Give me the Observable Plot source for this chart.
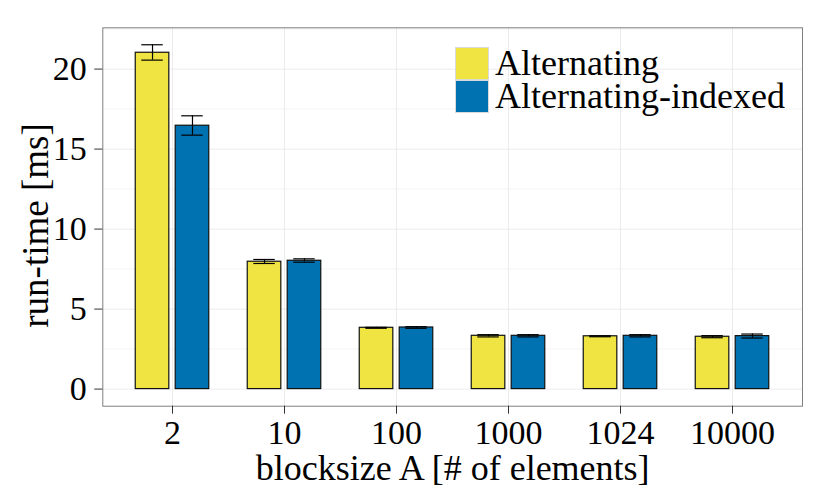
<!DOCTYPE html>
<html><head><meta charset="utf-8">
<script src="https://cdn.jsdelivr.net/npm/d3@7"></script>
<script src="https://cdn.jsdelivr.net/npm/@observablehq/plot@0.6"></script>
<style>
body{margin:0;background:#fff;}
#wrap{position:relative;width:830px;height:498px;font-family:"Liberation Serif",serif;}
#legend{position:absolute;left:455px;top:47px;}
.row{display:flex;align-items:center;height:33px;}
.key{width:34px;height:33px;box-sizing:border-box;border:1px solid #d9d9d9;}
.lab{margin-left:6px;font-size:36px;line-height:33px;color:#000;white-space:nowrap;}
</style></head><body><div id="wrap"></div>
<script>
// ---- data ----
const blocksizes = ["2", "10", "100", "1000", "1024", "10000"];
const series = ["Alternating", "Alternating-indexed"];
const colors = ["#F0E442", "#0072B2"];
const altMean = [21.02, 7.96, 3.83, 3.33, 3.30, 3.27];
const altLo   = [20.56, 7.85, 3.80, 3.26, 3.27, 3.21];
const altHi   = [21.52, 8.10, 3.86, 3.40, 3.33, 3.34];
const idxMean = [16.46, 8.02, 3.85, 3.33, 3.33, 3.31];
const idxLo   = [15.87, 7.93, 3.80, 3.26, 3.26, 3.19];
const idxHi   = [17.08, 8.14, 3.90, 3.40, 3.40, 3.44];
const yTicks = [0, 5, 10, 15, 20];
const yMinor = [2.5, 7.5, 12.5, 17.5, 22.5];
const xTitle = "blocksize A [# of elements]";
const yTitle = "run-time [ms]";

const rows = (means, los, his, s) => blocksizes.map((b, i) => ({blocksize: b, series: s, mean: means[i], lo: los[i], hi: his[i]}));
const alt = rows(altMean, altLo, altHi, series[0]);
const idx = rows(idxMean, idxLo, idxHi, series[1]);

// ---- layout ----
const W = 830, H = 498, mL = 102.3, mR = 28, mT = 27.3, mB = 92.3;
const step = (W - mL - mR) / 6.2;
const half = step / 2;
const off = 0.177 * step;   // dodge offset
const bw = 0.305 * step;    // bar width
const cw = 0.198 * step;    // error bar cap width
const ins = (sign, w) => { const c = half + sign * off; return {insetLeft: c - w / 2, insetRight: step - (c + w / 2)}; };

function seriesMarks(d, sign) {
  return [
    Plot.barY(d, {x: "blocksize", y: "mean", fill: "series", stroke: "#111", strokeWidth: 1.2, ...ins(sign, bw)}),
    Plot.ruleX(d, {x: "blocksize", y1: "lo", y2: "hi", dx: sign * off, stroke: "#000", strokeWidth: 1.2}),
    Plot.tickY(d, {x: "blocksize", y: "hi", stroke: "#000", strokeWidth: 1.2, ...ins(sign, cw)}),
    Plot.tickY(d, {x: "blocksize", y: "lo", stroke: "#000", strokeWidth: 1.2, ...ins(sign, cw)})
  ];
}

const chart = Plot.plot({
  width: W, height: H,
  marginLeft: mL, marginRight: mR, marginTop: mT, marginBottom: mB,
  style: {fontFamily: "Liberation Serif", fontSize: "34px", background: "white", color: "black", overflow: "visible"},
  x: {type: "band", domain: blocksizes, paddingInner: 0, paddingOuter: 0.1, label: null},
  y: {domain: [-1.07, 22.58], label: null},
  color: {domain: series, range: colors},
  marks: [
    Plot.gridY(yMinor, {stroke: "#f4f4f4", strokeOpacity: 1, strokeWidth: 1}),
    Plot.gridY(yTicks, {stroke: "#ebebeb", strokeOpacity: 1, strokeWidth: 1}),
    Plot.gridX(blocksizes, {stroke: "#ebebeb", strokeOpacity: 1, strokeWidth: 1}),
    ...seriesMarks(alt, -1),
    ...seriesMarks(idx, 1),
    Plot.frame({stroke: "#7f7f7f", strokeWidth: 1}),
    Plot.axisY(yTicks, {tickSize: 8, tickPadding: 8, stroke: "#333", fill: "black", label: null, fontSize: 34}),
    Plot.axisX({tickSize: 8, tickPadding: 6, stroke: "#333", fill: "black", label: null, fontSize: 34}),
    Plot.text([xTitle], {text: d => d, frameAnchor: "bottom", lineAnchor: "middle", textAnchor: "middle", dy: 62, fontSize: 36, fill: "black"}),
    Plot.text([yTitle], {text: d => d, frameAnchor: "left", lineAnchor: "middle", textAnchor: "middle", rotate: -90, dx: -67, dy: 8.5, fontSize: 37, fill: "black"})
  ]
});

const wrap = document.getElementById("wrap");
wrap.appendChild(chart);
const legend = document.createElement("div");
legend.id = "legend";
series.forEach((s, i) => {
  const row = document.createElement("div");
  row.className = "row";
  const key = document.createElement("div");
  key.className = "key";
  key.style.background = colors[i];
  const lab = document.createElement("span");
  lab.className = "lab";
  lab.textContent = s;
  row.appendChild(key); row.appendChild(lab);
  legend.appendChild(row);
});
wrap.appendChild(legend);
</script></body></html>
